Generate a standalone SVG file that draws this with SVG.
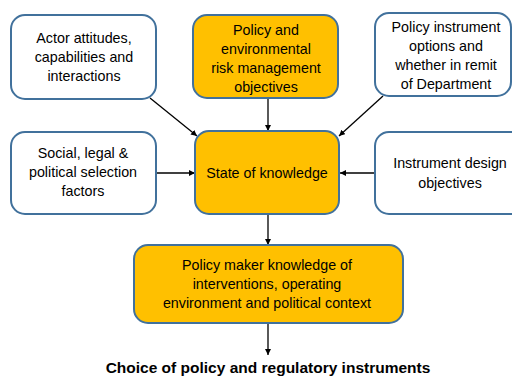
<svg xmlns="http://www.w3.org/2000/svg" width="512" height="378" viewBox="0 0 512 378">
<defs>
<marker id="ah" viewBox="0 0 10 10" refX="10" refY="5" markerWidth="6" markerHeight="6" orient="auto" markerUnits="userSpaceOnUse">
<path d="M0,0 L10,5 L0,10 z" fill="#000"/>
</marker>
<style>
.box{stroke:#41719C;stroke-width:2}
.w{fill:#fff}
.y{fill:#FFC000}
text{font-family:"Liberation Sans",Arial,sans-serif;font-size:14.3px;fill:#000;text-anchor:middle}
.t{font-weight:bold;font-size:15.5px}
.c{stroke:#000;stroke-width:1.3;fill:none;marker-end:url(#ah)}
</style>
</defs>
<rect width="512" height="378" fill="#fff"/>
<g id="connectors">
<line class="c" x1="150" y1="98" x2="197" y2="136"/>
<line class="c" x1="268" y1="98" x2="268" y2="131"/>
<line class="c" x1="383" y1="96" x2="339" y2="136"/>
<line class="c" x1="156" y1="173" x2="195" y2="173"/>
<line class="c" x1="375" y1="173" x2="340" y2="173"/>
<line class="c" x1="268" y1="214" x2="268" y2="245"/>
<line class="c" x1="268" y1="323" x2="268" y2="355"/>
</g>
<g id="actor">
<rect class="box w" x="11" y="15" width="145" height="84" rx="14"/>
<text x="84" y="43">Actor attitudes,</text>
<text x="84" y="62">capabilities and</text>
<text x="84" y="81">interactions</text>
</g>
<g id="policy-env">
<rect class="box y" x="193" y="15" width="145" height="83" rx="14"/>
<text x="266" y="35">Policy and</text>
<text x="266" y="54">environmental</text>
<text x="266" y="73">risk management</text>
<text x="266" y="92">objectives</text>
</g>
<g id="instrument-options">
<rect class="box w" x="375" y="13" width="136" height="83" rx="14"/>
<text x="446" y="32">Policy instrument</text>
<text x="446" y="51">options and</text>
<text x="446" y="70">whether in remit</text>
<text x="446" y="89">of Department</text>
</g>
<g id="social">
<rect class="box w" x="11" y="132" width="145" height="82" rx="14"/>
<text x="83" y="158">Social, legal &amp;</text>
<text x="83" y="177">political selection</text>
<text x="83" y="196">factors</text>
</g>
<g id="state">
<rect class="box y" x="195" y="131" width="144" height="83" rx="14"/>
<text x="267" y="178">State of knowledge</text>
</g>
<g id="instrument-design">
<rect class="box w" x="375" y="132" width="150" height="82" rx="14"/>
<text x="450" y="168">Instrument design</text>
<text x="450" y="188">objectives</text>
</g>
<g id="policy-maker">
<rect class="box y" x="134" y="245" width="269" height="78" rx="14"/>
<text x="267" y="270">Policy maker knowledge of</text>
<text x="267" y="289">interventions, operating</text>
<text x="267" y="308">environment and political context</text>
</g>
<g id="title">
<text class="t" x="268" y="373">Choice of policy and regulatory instruments</text>
</g>
</svg>
